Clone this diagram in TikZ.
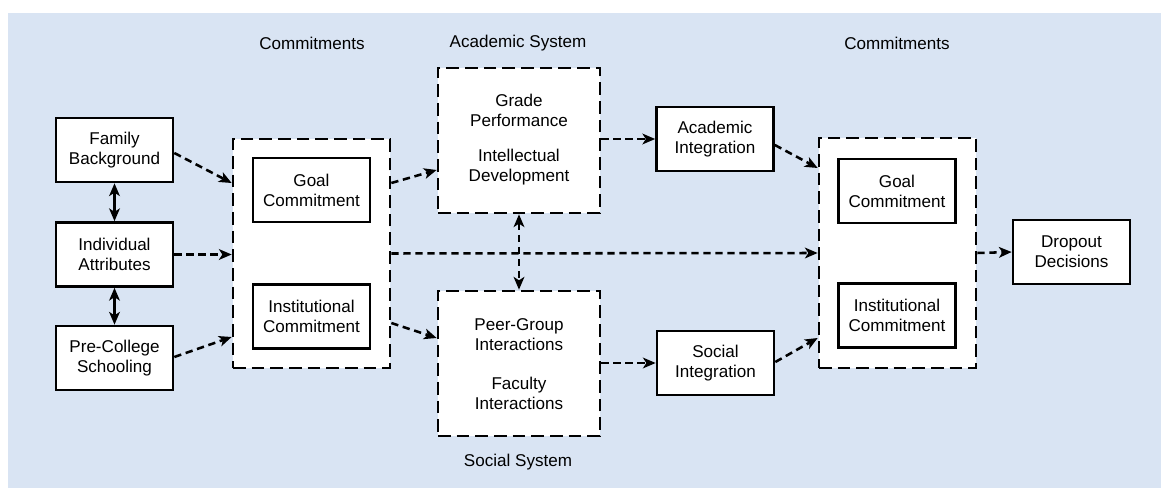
\documentclass[tikz,border=0pt]{standalone}
\usepackage{fontspec}
\setmainfont{Liberation Sans}
\usetikzlibrary{arrows.meta,calc}
\definecolor{bgblue}{RGB}{217,228,243}
\tikzset{
  solidbox/.style={draw=black, fill=white, line width=2pt, minimum width=87.75pt, minimum height=48pt, align=center, inner sep=0pt},
  dashbox/.style={draw=black, fill=white, line width=2pt, dash pattern=on 9.5pt off 4.5pt, inner sep=0pt},
  lbl/.style={align=center, inner sep=0pt},
  tip/.style={-{Stealth[length=9.5pt,width=8pt,inset=2.5pt]}},
  arr/.style={tip, line width=1.9pt, dash pattern=on 5.5pt off 3.5pt},
  dbl/.style={{Stealth[length=9.5pt,width=8pt,inset=2.5pt]}-{Stealth[length=9.5pt,width=8pt,inset=2.5pt]}, line width=1.9pt},
}
\begin{document}
\begin{tikzpicture}[x=0.75pt,y=-0.75pt,font=\fontsize{12.8}{15}\selectfont]
\useasboundingbox (0,0) rectangle (1161,488);
\fill[white] (0,0) rectangle (1161,488);
\fill[bgblue] (8,13) rectangle (1161,488);

% headings
\node[lbl] (hc1) at (312,43) {Commitments};
\node[lbl] (has) at (518,43) {Academic System};
\node[lbl] (hc2) at (897,43) {Commitments};
\node[lbl] (hss) at (518,462) {Social System};

% left column
\node[solidbox] (fam) at (114.5,150) {Family\\Background};
\node[solidbox] (ind) at (114.5,254.5) {Individual\\Attributes};
\node[solidbox] (pre) at (114.5,358) {Pre-College\\Schooling};

% left commitments
\node[dashbox, minimum width=117.75pt, minimum height=171.75pt] (lbox) at (311.5,253.5) {};
\node[solidbox] (lgoal) at (311.5,190) {Goal\\Commitment};
\node[solidbox] (linst) at (311.5,316.5) {Institutional\\Commitment};

% systems
\node[dashbox, minimum width=121.5pt, minimum height=108.75pt] (acad) at (519,140.5) {};
\node[lbl] (ac1) at (519,110) {Grade\\Performance};
\node[lbl] (ac2) at (519,167) {Intellectual\\Development};
\node[dashbox, minimum width=121.5pt, minimum height=108.75pt] (soc) at (519,363.5) {};
\node[lbl] (so1) at (519,334.5) {Peer-Group\\Interactions};
\node[lbl] (so2) at (519,393) {Faculty\\Interactions};

% integration
\node[solidbox] (acint) at (715,139) {Academic\\Integration};
\node[solidbox] (socint) at (715.5,363) {Social\\Integration};

% right commitments
\node[dashbox, minimum width=117.75pt, minimum height=172.5pt] (rbox) at (897.5,253) {};
\node[solidbox] (rgoal) at (897,191) {Goal\\Commitment};
\node[solidbox] (rinst) at (897,315.5) {Institutional\\Commitment};

% outcome
\node[solidbox] (drop) at (1071.5,252) {Dropout\\Decisions};

% connectors
\draw[dbl] (fam.south) -- (ind.north);
\draw[dbl] (ind.south) -- (pre.north);
\draw[arr] ($(fam.east)+(0,3)$) -- ($(lbox.west)+(0,-70.5)$);
\draw[arr] (ind.east) -- (ind.east -| lbox.west);
\draw[arr] ($(pre.east)+(0,-1)$) -- ($(lbox.west)+(0,83.5)$);
\draw[arr] ($(lbox.east)+(0,-70.5)$) -- ($(acad.west)+(0,29.5)$);
\draw[arr] ($(lbox.east)+(0,69.5)$) -- ($(soc.west)+(0,-25.5)$);
\draw[arr] (lbox.east) -- (rbox.west);
\draw[dbl, dash pattern=on 5.5pt off 3.5pt] (acad.south) -- (soc.north);
\draw[arr] (acint.west -| acad.east) -- (acint.west);
\draw[arr] (socint.west -| soc.east) -- (socint.west);
\draw[arr] ($(acint.east)+(0,6)$) -- ($(rbox.west)+(0,-85)$);
\draw[arr] ($(socint.east)+(0,-1)$) -- ($(rbox.west)+(0,85)$);
\draw[arr] (rbox.east) -- (drop.west);
\end{tikzpicture}
\end{document}
